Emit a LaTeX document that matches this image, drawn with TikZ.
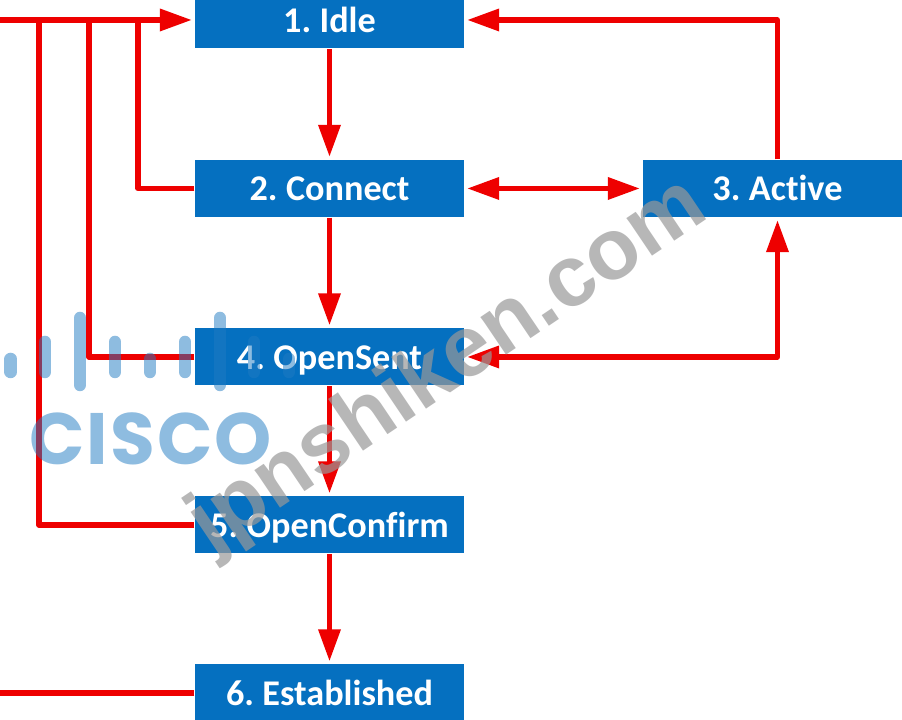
\documentclass[tikz,border=0pt]{standalone}
\usepackage{fontspec}
\setmainfont{Carlito}[Ligatures=CommonOff,WordSpace=0.7]
\newfontfamily\logofont{Poppins}[LetterSpace=3]
\newfontfamily\markfont{Liberation Sans}
\usetikzlibrary{arrows.meta}
\definecolor{statebox}{HTML}{0570C0}
\definecolor{linkred}{HTML}{EE0000}
\definecolor{logoblue}{RGB}{31,122,194}
\tikzset{
  state/.style={draw=none, fill=statebox, rectangle, minimum width=2.69cm, minimum height=0.57cm, inner sep=0pt, text height=0.25cm, text depth=0pt, text=white, font=\fontsize{10.3}{11}\selectfont\bfseries},
  link/.style={draw=linkred, line width=0.052cm, line join=round},
  tip/.style={-{Triangle[length=0.32cm,width=0.215cm]}, linkred, shorten >=0.025cm},
  tips/.style={{Triangle[length=0.32cm,width=0.215cm]}-{Triangle[length=0.32cm,width=0.215cm]}, linkred, shorten >=0.025cm, shorten <=0.025cm},
  logobar/.style={draw=logoblue, opacity=0.5, line width=0.125cm, line cap=round}
}
\begin{document}
\begin{tikzpicture}[x=1cm,y=1cm]
\clip[use as bounding box] (0,0) rectangle (9.02,7.2);
\fill[white] (0,0) rectangle (9.02,7.2);

\node[state] (Idle) at (3.295,7.00) {1. Idle};
\node[state] (Connect) at (3.295,5.315) {2. Connect};
\node[state] (Active) at (7.775,5.315) {3. Active};
\node[state] (OpenSent) at (3.295,3.63) {4. OpenSent};
\node[state] (OpenConfirm) at (3.295,1.95) {5. OpenConfirm};
\node[state] (Established) at (3.295,0.27) {6. Established};

\coordinate (busIn) at (0,7.00);
\coordinate (busOut) at (0,0.27);
\coordinate (busA) at (1.38,7.00);
\coordinate (busB) at (0.89,7.00);
\coordinate (busC) at (0.39,7.00);

\draw[link,tip] (busIn) -- (Idle);
\draw[link] (Established) -- (busOut);
\draw[link] (Connect) -| (busA);
\draw[link] (OpenSent) -| (busB);
\draw[link] (OpenConfirm) -| (busC);

\draw[link,tip] (Idle) -- (Connect);
\draw[link,tip] (Connect) -- (OpenSent);
\draw[link,tip] (OpenSent) -- (OpenConfirm);
\draw[link,tip] (OpenConfirm) -- (Established);
\draw[link,tips] (Connect) -- (Active);
\draw[link,tip] (Active) |- (Idle);
\draw[link,tips] (OpenSent) -| (Active);

\foreach \x/\ya/\yb in {0.107/3.61/3.48, 0.45/3.78/3.48, 0.80/4.02/3.35, 1.15/3.78/3.48, 1.50/3.61/3.48, 1.85/3.78/3.48, 2.20/4.02/3.35, 2.54/3.78/3.48, 2.89/3.61/3.48}
  \draw[logobar] (\x,\ya) -- (\x,\yb);

\node[text=logoblue, opacity=0.5, inner sep=0pt, font=\logofont\bfseries\fontsize{20.7}{22}\selectfont] (logoword) at (1.505,2.815) {CISCO};
\node[text=black!40, opacity=0.7, inner sep=0pt, rotate=34, font=\markfont\bfseries\fontsize{24.5}{26}\selectfont] (watermark) at (4.49,3.53) {jpnshiken.com};
\end{tikzpicture}
\end{document}
